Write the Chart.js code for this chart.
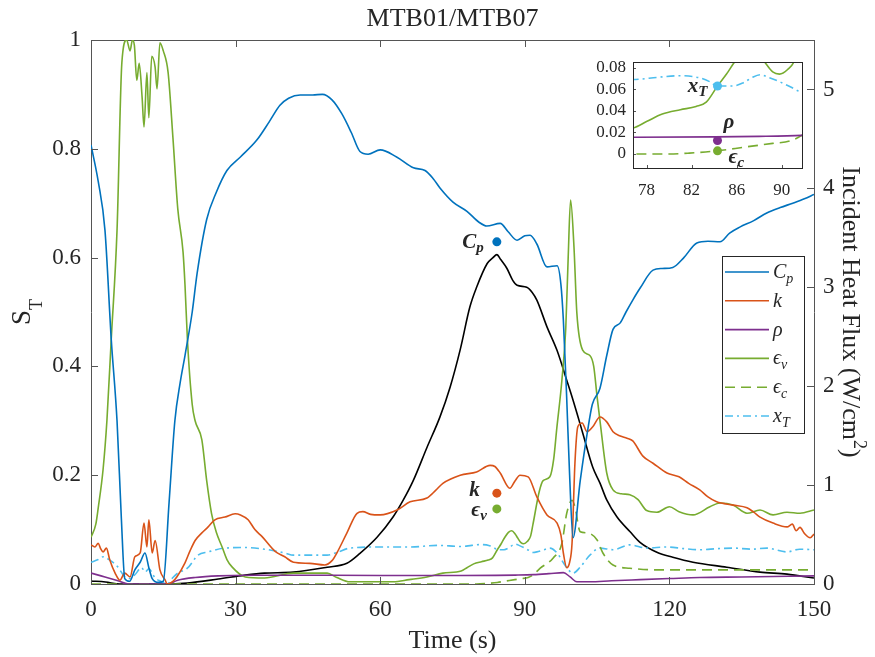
<!DOCTYPE html>
<html>
<head>
<meta charset="utf-8">
<script src="https://cdn.jsdelivr.net/npm/chart.js@4.4.1/dist/chart.umd.min.js"></script>
<style>
  html, body { margin: 0; padding: 0; background: #fff; }
  #wrap { position: relative; width: 875px; height: 657px; }
  #main { position: absolute; left: 0; top: 0; }
  #inset { position: absolute; left: 580px; top: 45px; }
</style>
</head>
<body>
<div id="wrap">
  <canvas id="main" width="875" height="657"></canvas>
  <canvas id="inset" width="240" height="160"></canvas>
</div>
<script>
// tick labels
const xTicks = [0, 30, 60, 90, 120, 150];
const yTicks = [0, 0.2, 0.4, 0.6, 0.8, 1];
const y2Ticks = [0, 1, 2, 3, 4, 5];
const insetXTicks = [78, 82, 86, 90];
const insetYTicks = [0, 0.02, 0.04, 0.06, 0.08];

// C_p
const cpTime = [0,1.5,2.9,4.2,5.4,6.3,7,8,9.1,10.2,11.2,12,12.7,14,15,16.2,17.4,18.5,19.5,21,22,24,26,28.2,31,34.4,37,39.2,41,43.4,46,48,50,52,54,55.8,57.5,60,63.4,66.9,69.3,71,72.4,75.1,78,80.5,82.1,84.9,86.5,88.4,90,91.1,92.5,94.6,96.7,97.5,98,98.7,99.3,100,101.5,103,104,105.6,107,108.3,109.8,111,112.4,114,116.6,118.5,120.7,123,125.7,128,130.5,132.5,134.6,137.5,140.2,143,145.6,148,150];
const cpValue = [0.807,0.74,0.65,0.45,0.30,0.12,0.01,0.005,0.026,0.04,0.057,0.03,0.01,0.003,0.005,0.15,0.30,0.37,0.42,0.50,0.57,0.67,0.72,0.76,0.785,0.816,0.85,0.88,0.893,0.899,0.899,0.90,0.89,0.865,0.83,0.795,0.79,0.798,0.785,0.765,0.76,0.745,0.728,0.702,0.685,0.665,0.658,0.663,0.648,0.632,0.64,0.641,0.625,0.583,0.585,0.55,0.485,0.34,0.2,0.085,0.19,0.28,0.33,0.36,0.42,0.468,0.48,0.50,0.522,0.545,0.577,0.58,0.582,0.60,0.627,0.63,0.629,0.645,0.656,0.668,0.682,0.692,0.70,0.708,0.716];

// k
const kTime = [0,0.8,1.5,2,2.5,3.2,3.9,5,6,7,8.1,9.1,10.2,11,11.6,12,12.7,13.3,14.3,15.4,15.8,17,17.8,19.5,20.5,21.6,23,24.3,25.7,27.8,29.9,31,32.6,34,35.5,38.2,40.2,42,45.4,48.5,50,51,53.1,55.2,56.4,58,60,63.5,66.2,69.7,71.5,73,76.6,80,82.8,83.8,84.9,86.9,88,89,90.7,92.5,94.6,96.7,97.5,98,98.7,99.3,99.8,100.4,101,101.9,102.9,104.1,105.6,107,108.3,109.8,111.2,112.4,114.5,116.6,119.5,122,124,126.3,128,129.8,133.2,136.1,137.5,138.8,141.5,144.4,145.5,146.3,147.1,148,149.2,150];
const kValue = [0.072,0.068,0.075,0.065,0.059,0.066,0.044,0.02,0.007,0.02,0.013,0.05,0.057,0.112,0.068,0.118,0.057,0.08,0.026,0.007,0.0,0.005,0.013,0.039,0.06,0.08,0.094,0.105,0.118,0.123,0.129,0.127,0.118,0.10,0.087,0.06,0.05,0.04,0.038,0.035,0.043,0.057,0.094,0.13,0.133,0.128,0.127,0.136,0.151,0.158,0.172,0.185,0.20,0.206,0.218,0.216,0.204,0.176,0.19,0.2,0.197,0.16,0.127,0.112,0.09,0.057,0.03,0.04,0.075,0.222,0.289,0.296,0.28,0.289,0.307,0.298,0.28,0.272,0.268,0.263,0.235,0.222,0.204,0.197,0.185,0.173,0.16,0.151,0.145,0.14,0.132,0.123,0.112,0.105,0.11,0.098,0.104,0.093,0.085,0.092];

// rho
const rhoTime = [0,2.9,5.6,7.7,12,15.8,18,21.6,26.4,33,50,70,76.8,84,88,91.8,95,98,99.4,100.8,103.5,108,113.9,120,126.3,135,150];
const rhoValue = [0.02,0.013,0.006,0,0,0,0.007,0.012,0.015,0.016,0.016,0.0155,0.0155,0.0158,0.0163,0.0172,0.019,0.021,0.013,0.004,0.004,0.006,0.008,0.01,0.012,0.013,0.015];

// epsilon_v
const epsVTime = [0,1,1.5,2.5,3.3,4.2,5.4,6.4,7.4,8.1,8.6,9,9.5,10,10.6,11,11.6,12,12.6,13.3,13.7,14.3,15,16,17,18,19.1,19.5,20,21,21.6,23,24,25,26,27.2,28.2,29.3,32,36,42,49,51,53.7,62.7,66,69.7,73,76.8,78,79.4,81,82.4,83.3,84.3,85.1,85.8,86.6,87.3,88,88.5,89.2,89.8,90.5,91.2,91.7,93,93.8,95.2,96,96.6,97.7,98.5,99,99.5,100.2,100.8,102,103.5,104.3,105,105.6,107,108.3,110,111.8,113.5,115.3,117.4,120,122,124.9,128.4,130.5,133.2,136.1,138.8,141.5,144.4,147.1,150];
const epsVValue = [0.086,0.11,0.14,0.21,0.30,0.45,0.65,0.958,1.0,0.98,1.0,0.99,0.926,0.957,0.895,0.84,0.94,0.857,0.97,0.95,0.91,0.995,0.98,0.94,0.82,0.69,0.61,0.55,0.45,0.33,0.30,0.265,0.19,0.13,0.095,0.068,0.045,0.031,0.013,0.011,0.02,0.02,0.012,0.004,0.004,0.008,0.013,0.02,0.024,0.03,0.037,0.041,0.044,0.048,0.063,0.074,0.085,0.095,0.098,0.092,0.085,0.076,0.074,0.078,0.088,0.11,0.17,0.19,0.197,0.23,0.283,0.375,0.47,0.60,0.706,0.62,0.498,0.43,0.42,0.40,0.344,0.30,0.204,0.173,0.166,0.164,0.155,0.135,0.132,0.142,0.133,0.127,0.142,0.149,0.145,0.13,0.136,0.127,0.132,0.13,0.136];

// epsilon_c
const epsCTime = [0,20,40,60,70,76.8,80,81.8,84.3,86.8,89.2,90.7,91.7,93.2,95.9,97.7,98.7,99.8,100.4,101.5,102.9,105,106.2,108.3,111.8,117.4,130,150];
const epsCValue = [0,0,0,0,0,0,0,0.0008,0.0029,0.0065,0.0098,0.012,0.0167,0.029,0.048,0.075,0.13,0.154,0.142,0.096,0.094,0.081,0.057,0.035,0.029,0.026,0.026,0.026];

// x_T
const xTTime = [0,1.5,2.5,3.9,5.6,7,8,9.1,10.5,11.2,12,13.3,14.5,15.8,17,18,20,22.2,24.3,27.8,32,36,40.2,42,49,51,53.7,59.3,66.2,71.8,76.8,79,80.9,82.7,83.6,84.3,85.7,86.6,87.4,88.1,88.8,89.8,90.8,91.7,92.5,94,95.2,96.7,98.3,100,101.5,103.5,105.6,108.3,111.8,115.3,119.5,123,126.3,130,133.2,137,140.2,144.4,147,150];
const xTValue = [0.04,0.045,0.05,0.044,0.031,0.013,0.01,0.017,0.03,0.022,0.028,0.011,0.005,0.0,0.012,0.02,0.029,0.053,0.059,0.066,0.067,0.064,0.057,0.053,0.053,0.058,0.066,0.068,0.068,0.071,0.069,0.071,0.0725,0.0705,0.067,0.063,0.063,0.066,0.071,0.0734,0.071,0.067,0.062,0.058,0.059,0.063,0.066,0.057,0.035,0.02,0.031,0.053,0.066,0.063,0.072,0.066,0.068,0.065,0.063,0.065,0.066,0.064,0.066,0.059,0.064,0.063];

// incident heat flux (W/cm2), right axis
const fluxTime = [0,3,6,15,20,26.4,32,36,42,49,53.1,55.8,59.3,62.7,64.8,66.9,69.7,72.4,74.5,76.6,78.6,80,82.2,83.4,84.2,85,86.3,87.5,88.4,90.4,91.5,92.5,94.6,96.7,98.7,100,102,104.1,105.6,107,109.1,111.8,113.9,117.4,120.7,124.9,131.9,138.8,144.4,150];
const fluxValue = [0.03,0.02,0,0,0.01,0.05,0.09,0.11,0.12,0.17,0.21,0.31,0.47,0.68,0.85,1.05,1.38,1.69,1.99,2.37,2.80,3.0,3.24,3.30,3.33,3.28,3.19,3.07,3.02,3.0,2.95,2.87,2.6,2.36,2.06,1.86,1.53,1.18,1.02,0.85,0.68,0.53,0.42,0.32,0.27,0.22,0.17,0.12,0.10,0.06];

// marked points: main plot (C_p, k, eps_v) and inset (x_T, rho, eps_c)
const dotTime = [84.2, 84.2, 84.2];
const dotValue = [0.629, 0.167, 0.138];
const insetDotTime = [84.3, 84.3, 84.3];
const insetDotValue = [0.063, 0.0125, 0.0029];

const BLUE = '#0072BD', ORANGE = '#D95319', PURPLE = '#7E2F8E', GREEN = '#77AC30', CYAN = '#4DBEEE';
const axisColor = '#555555';
const textColor = '#262626';
const FAMILY = '"Liberation Serif", "DejaVu Serif", serif';

Chart.defaults.font.family = FAMILY;

const pts = (t, v) => t.map((x, i) => ({ x: x, y: v[i] }));

function lineSet(label, t, v, color, dash, axis, legendText) {
    return {
        label: label,
        data: pts(t, v),
        borderColor: color,
        borderWidth: 1.6,
        borderDash: dash,
        pointRadius: 0,
        cubicInterpolationMode: 'monotone',
        yAxisID: axis,
        legendText: legendText
    };
}

function curves(axis) {
    return [
        lineSet('Cp', cpTime, cpValue, BLUE, [], axis, [['C', 20], ['p', 14, 5]]),
        lineSet('k', kTime, kValue, ORANGE, [], axis, [['k', 20]]),
        lineSet('rho', rhoTime, rhoValue, PURPLE, [], axis, [['ρ', 20]]),
        lineSet('eps_v', epsVTime, epsVValue, GREEN, [], axis, [['ϵ', 20], ['v', 14, 5]]),
        lineSet('eps_c', epsCTime, epsCValue, GREEN, [10, 6], axis, [['ϵ', 20], ['c', 14, 5]]),
        lineSet('x_T', xTTime, xTValue, CYAN, [8, 4, 2, 4], axis, [['x', 20], ['T', 14, 5]])
    ];
}

// text with sub/superscripts: parts = [text, size, dy]
function richText(ctx, parts, x, y, align, style) {
    let w = 0;
    parts.forEach(p => {
        ctx.font = style + ' ' + p[1] + 'px ' + FAMILY;
        w += ctx.measureText(p[0]).width;
    });
    let cx = align === 'right' ? x - w : align === 'center' ? x - w / 2 : x;
    ctx.textAlign = 'left';
    ctx.textBaseline = 'alphabetic';
    parts.forEach(p => {
        ctx.font = style + ' ' + p[1] + 'px ' + FAMILY;
        ctx.fillText(p[0], cx, y + (p[2] || 0));
        cx += ctx.measureText(p[0]).width;
    });
}

// inward tick marks, MATLAB style
function inwardTicks(ctx, chart, len) {
    const a = chart.chartArea;
    ctx.save();
    ctx.strokeStyle = axisColor;
    ctx.lineWidth = 1;
    ctx.beginPath();
    Object.values(chart.scales).forEach(s => {
        s.ticks.forEach(t => {
            const p = Math.round(s.getPixelForValue(t.value)) + 0.5;
            if (s.position === 'bottom') { ctx.moveTo(p, a.bottom); ctx.lineTo(p, a.bottom - len); }
            if (s.position === 'top') { ctx.moveTo(p, a.top); ctx.lineTo(p, a.top + len); }
            if (s.position === 'left') { ctx.moveTo(a.left, p); ctx.lineTo(a.left + len, p); }
            if (s.position === 'right') { ctx.moveTo(a.right, p); ctx.lineTo(a.right - len, p); }
        });
    });
    ctx.stroke();
    ctx.restore();
}

const setTicks = arr => s => { s.ticks = arr.map(v => ({ value: v })); };
const numLabel = v => String(+Number(v).toFixed(3));

function axisOpts(extra) {
    return Object.assign({
        type: 'linear',
        grid: { drawOnChartArea: false, drawTicks: false },
        border: { color: axisColor, width: 1 }
    }, extra);
}

const mainDecor = {
    id: 'mainDecor',
    afterDraw(chart) {
        const ctx = chart.ctx, a = chart.chartArea;
        const midX = (a.left + a.right) / 2, midY = (a.top + a.bottom) / 2;
        inwardTicks(ctx, chart, 7);
        ctx.save();
        ctx.fillStyle = textColor;
        richText(ctx, [['MTB01/MTB07', 26]], midX, 26, 'center', '');
        richText(ctx, [['Time (s)', 26]], midX, 648, 'center', '');

        ctx.save();
        ctx.translate(30, midY);
        ctx.rotate(-Math.PI / 2);
        richText(ctx, [['S', 27], ['T', 18, 12]], 0, 0, 'center', '');
        ctx.restore();

        ctx.save();
        ctx.translate(843, midY);
        ctx.rotate(Math.PI / 2);
        richText(ctx, [['Incident Heat Flux (W/cm', 26], ['2', 18, -11], [')', 26]], 0, 0, 'center', '');
        ctx.restore();

        // labels next to the marked points
        const sx = chart.scales.x, sy = chart.scales.y;
        const labels = [
            { parts: [['C', 21], ['p', 15, 4]], dx: -13, dy: 6, align: 'right' },
            { parts: [['k', 21]], dx: -17, dy: 3, align: 'right' },
            { parts: [['ϵ', 21], ['v', 15, 4]], dx: -10, dy: 7, align: 'right' }
        ];
        labels.forEach((l, i) => {
            const px = sx.getPixelForValue(dotTime[i]), py = sy.getPixelForValue(dotValue[i]);
            richText(ctx, l.parts, px + l.dx, py + l.dy, l.align, 'bold italic');
        });

        // legend
        const sets = chart.data.datasets.filter(d => d.legendText);
        const lx = 722.5, ly = 256.5, lw = 82, lh = 177;
        ctx.fillStyle = '#fff';
        ctx.fillRect(lx, ly, lw, lh);
        ctx.strokeStyle = textColor;
        ctx.lineWidth = 1;
        ctx.strokeRect(lx, ly, lw, lh);
        sets.forEach((d, i) => {
            const yy = 272 + i * 28.8;
            ctx.strokeStyle = d.borderColor;
            ctx.lineWidth = 1.6;
            ctx.setLineDash(d.borderDash || []);
            ctx.beginPath();
            ctx.moveTo(725, yy);
            ctx.lineTo(769, yy);
            ctx.stroke();
            ctx.setLineDash([]);
            ctx.fillStyle = textColor;
            richText(ctx, d.legendText, 773, yy + 6, 'left', 'italic');
        });
        ctx.restore();
    }
};

new Chart(document.getElementById('main'), {
    type: 'line',
    data: {
        datasets: [
            {
                label: 'marks',
                data: pts(dotTime, dotValue),
                showLine: false,
                pointRadius: 4.5,
                pointBorderWidth: 0,
                pointBackgroundColor: [BLUE, ORANGE, GREEN],
                yAxisID: 'y'
            },
            ...curves('y'),
            {
                label: 'flux',
                data: pts(fluxTime, fluxValue),
                borderColor: '#000',
                borderWidth: 1.6,
                pointRadius: 0,
                cubicInterpolationMode: 'monotone',
                yAxisID: 'y2'
            }
        ]
    },
    options: {
        responsive: false,
        animation: false,
        events: [],
        layout: { padding: { top: 40, left: 0, right: 0, bottom: 0 } },
        plugins: { legend: { display: false }, tooltip: { enabled: false }, title: { display: false } },
        scales: {
            x: axisOpts({
                min: 0, max: 150, position: 'bottom',
                afterBuildTicks: setTicks(xTicks),
                afterFit: s => { s.height = 73; },
                ticks: { font: { size: 23 }, color: textColor, padding: 12, maxRotation: 0, autoSkip: false, callback: numLabel }
            }),
            xTop: axisOpts({
                min: 0, max: 150, position: 'top',
                afterBuildTicks: setTicks(xTicks),
                afterFit: s => { s.height = 0; },
                ticks: { display: false }
            }),
            y: axisOpts({
                min: 0, max: 1, position: 'left',
                afterBuildTicks: setTicks(yTicks),
                afterFit: s => { s.width = 91; },
                ticks: { font: { size: 23 }, color: textColor, padding: 10, autoSkip: false, callback: numLabel }
            }),
            y2: axisOpts({
                min: 0, max: 5.5, position: 'right',
                afterBuildTicks: setTicks(y2Ticks),
                afterFit: s => { s.width = 61; },
                ticks: { font: { size: 23 }, color: textColor, padding: 9, autoSkip: false, callback: numLabel }
            })
        }
    },
    plugins: [mainDecor]
});

const insetDecor = {
    id: 'insetDecor',
    beforeDraw(chart) {
        const ctx = chart.ctx, a = chart.chartArea;
        ctx.save();
        ctx.fillStyle = '#fff';
        ctx.fillRect(a.left, a.top, a.right - a.left, a.bottom - a.top);
        ctx.restore();
    },
    afterDraw(chart) {
        const ctx = chart.ctx, a = chart.chartArea;
        inwardTicks(ctx, chart, 3);
        ctx.save();
        ctx.strokeStyle = textColor;
        ctx.lineWidth = 1;
        ctx.strokeRect(Math.round(a.left) + 0.5, Math.round(a.top) + 0.5, Math.round(a.right - a.left), Math.round(a.bottom - a.top));
        ctx.fillStyle = textColor;
        const sx = chart.scales.x, sy = chart.scales.y;
        const labels = [
            { parts: [['x', 21], ['T', 15, 4]], dx: -10, dy: 6, align: 'right' },
            { parts: [['ρ', 21]], dx: 6, dy: -12, align: 'left' },
            { parts: [['ϵ', 21], ['c', 15, 4]], dx: 11, dy: 12, align: 'left' }
        ];
        labels.forEach((l, i) => {
            const px = sx.getPixelForValue(insetDotTime[i]), py = sy.getPixelForValue(insetDotValue[i]);
            richText(ctx, l.parts, px + l.dx, py + l.dy, l.align, 'bold italic');
        });
        ctx.restore();
    }
};

new Chart(document.getElementById('inset'), {
    type: 'line',
    data: {
        datasets: [
            {
                label: 'marks',
                data: pts(insetDotTime, insetDotValue),
                showLine: false,
                pointRadius: 4.5,
                pointBorderWidth: 0,
                pointBackgroundColor: [CYAN, PURPLE, GREEN],
                yAxisID: 'y'
            },
            ...curves('y')
        ]
    },
    options: {
        responsive: false,
        animation: false,
        events: [],
        layout: { padding: { top: 5, left: 0, right: 18, bottom: 0 } },
        plugins: { legend: { display: false }, tooltip: { enabled: false }, title: { display: false } },
        scales: {
            x: axisOpts({
                min: 76.8, max: 91.8, position: 'bottom',
                afterBuildTicks: setTicks(insetXTicks),
                afterFit: s => { s.height = 37; },
                ticks: { font: { size: 17 }, color: textColor, padding: 12, maxRotation: 0, autoSkip: false, callback: numLabel }
            }),
            y: axisOpts({
                min: -0.013, max: 0.085, position: 'left',
                afterBuildTicks: setTicks(insetYTicks),
                afterFit: s => { s.width = 53; },
                ticks: { font: { size: 17 }, color: textColor, padding: 7, autoSkip: false, callback: numLabel }
            })
        }
    },
    plugins: [insetDecor]
});
</script>
</body>
</html>
